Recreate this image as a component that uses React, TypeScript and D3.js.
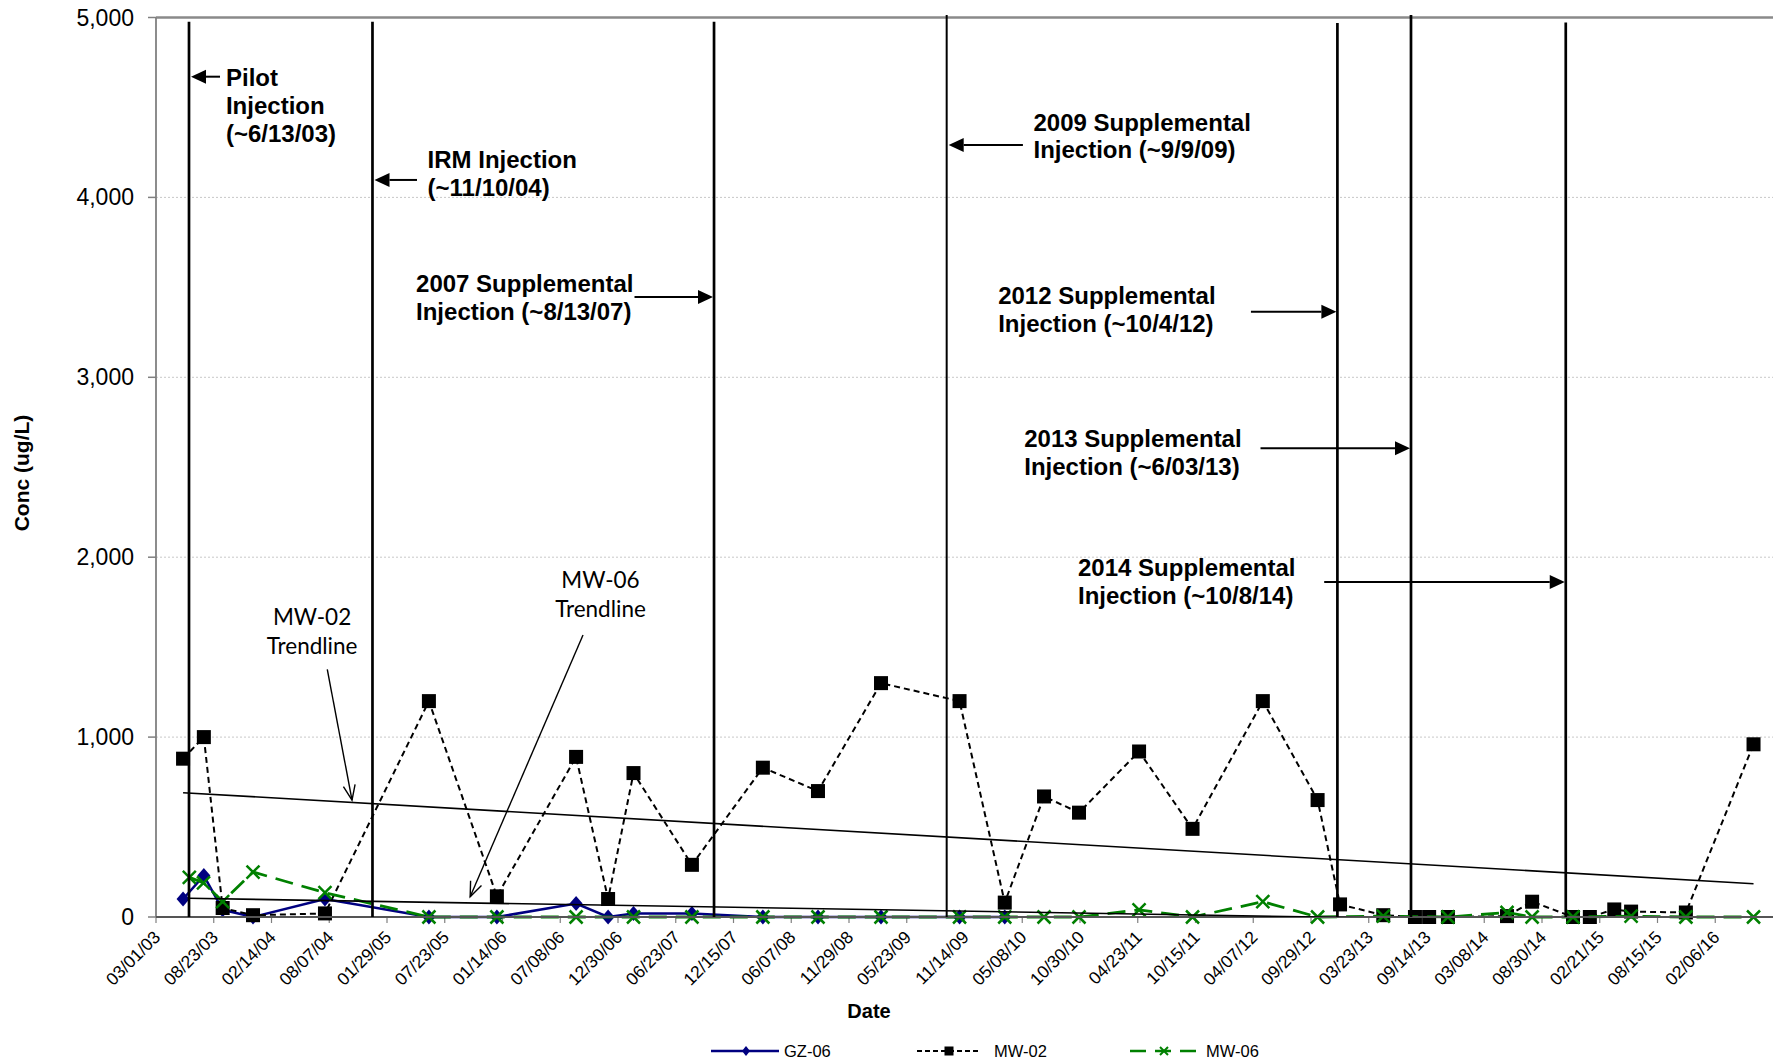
import React from 'react';
import * as d3 from 'd3';

// ---------- data ----------
const xAxisStart = '03/01/03';
const xAxisEnd = '07/30/16';
const xTickLabels = [
  '03/01/03', '08/23/03', '02/14/04', '08/07/04', '01/29/05', '07/23/05', '01/14/06',
  '07/08/06', '12/30/06', '06/23/07', '12/15/07', '06/07/08', '11/29/08', '05/23/09',
  '11/14/09', '05/08/10', '10/30/10', '04/23/11', '10/15/11', '04/07/12', '09/29/12',
  '03/23/13', '09/14/13', '03/08/14', '08/30/14', '02/21/15', '08/15/15', '02/06/16',
];
const yTicks = [0, 1000, 2000, 3000, 4000, 5000];

const gzDates = [
  '2003-05-22', '2003-07-24', '2003-09-19', '2003-12-20', '2004-07-25', '2005-06-05',
  '2005-12-28', '2006-08-25', '2006-11-30', '2007-02-15', '2007-08-11', '2008-03-13',
  '2008-08-27', '2009-03-06', '2009-10-30', '2010-03-16',
];
const gzValues = [100, 230, 40, 0, 100, 0, 0, 75, 0, 20, 20, 0, 0, 0, 0, 0];

const mw02Dates = [
  '2003-05-22', '2003-07-24', '2003-09-19', '2003-12-20', '2004-07-25', '2005-06-05',
  '2005-12-28', '2006-08-25', '2006-11-30', '2007-02-15', '2007-08-11', '2008-03-13',
  '2008-08-27', '2009-03-06', '2009-10-30', '2010-03-16', '2010-07-13', '2010-10-27',
  '2011-04-27', '2011-10-06', '2012-05-06', '2012-10-19', '2012-12-26', '2013-05-06',
  '2013-08-10', '2013-09-22', '2013-11-18', '2014-05-16', '2014-07-31', '2014-12-02',
  '2015-01-22', '2015-04-06', '2015-05-27', '2015-11-09', '2016-06-01',
];
const mw02Values = [
  880, 1000, 50, 10, 20, 1200, 115, 890, 100, 800, 290, 830, 700, 1300, 1200, 80, 670, 580,
  920, 490, 1200, 650, 70, 10, 0, 0, 0, 5, 85, 0, 0, 42, 30, 25, 960,
];

const mw06Dates = [
  '2003-06-10', '2003-07-23', '2003-09-19', '2003-12-20', '2004-07-25', '2005-06-05',
  '2005-12-28', '2006-08-25', '2007-02-15', '2007-08-11', '2008-03-13', '2008-08-27',
  '2009-03-06', '2009-10-30', '2010-03-16', '2010-07-13', '2010-10-27', '2011-04-27',
  '2011-10-06', '2012-05-06', '2012-10-19', '2013-05-06', '2013-11-18', '2014-05-16',
  '2014-07-31', '2014-12-02', '2015-05-27', '2015-11-09', '2016-06-01',
];
const mw06Values = [
  220, 190, 85, 250, 135, 0, 0, 0, 0, 0, 0, 0, 0, 0, 0, 0, 0, 40, 0, 85, 0, 5, 0, 25, 0, 0,
  5, 0, 0,
];

// linear trendline values at the first and last sample of each well
const mw02TrendValues = [691, 185];
const mw06TrendValues = [104, -40];

// injection events: marker line, callout text and arrow
const injectionLineDates = [
  '2003-06-09', '2004-12-16', '2007-10-17', '2009-09-21', '2012-12-18', '2013-07-29', '2014-11-10',
];
const injectionLineTops = [4977, 4977, 4977, 5014, 4970, 5014, 4972];
const injectionText = [
  ['Pilot', 'Injection', '(~6/13/03)'],
  ['IRM Injection', '(~11/10/04)'],
  ['2007 Supplemental', 'Injection (~8/13/07)'],
  ['2009 Supplemental', 'Injection (~9/9/09)'],
  ['2012 Supplemental', 'Injection (~10/4/12)'],
  ['2013 Supplemental', 'Injection (~6/03/13)'],
  ['2014 Supplemental', 'Injection (~10/8/14)'],
];
const injectionTextDates = [
  '2003-09-29', '2005-06-01', '2005-04-27', '2010-06-11', '2010-02-24', '2010-05-14', '2010-10-24',
];
const injectionTextValues = [4619, 4163, 3474, 4371, 3407, 2611, 1895];
const injectionArrowTailDates = [
  '2003-09-11', '2005-04-30', '2007-02-18', '2010-05-10', '2012-03-31', '2012-04-29', '2012-11-08',
];
const injectionArrowValues = [4671, 4097, 3446, 4291, 3365, 2605, 1862];

// trendline callouts
const trendLabelNames = ['MW-02', 'MW-06'];
const trendLabelDates = ['2004-06-16', '2006-11-07'];
const trendLabelValues = [1668, 1873];
const trendArrowFromDates = ['2004-08-01', '2006-09-15'];
const trendArrowFromValues = [1377, 1567];
const trendArrowToDates = ['2004-10-15', '2005-10-08'];
const trendArrowToValues = [650, 113];

// ---------- helpers ----------
const parseISO = d3.timeParse('%Y-%m-%d');
const parseTick = d3.timeParse('%m/%d/%y');
const ARIAL = '"Liberation Sans", Arial, sans-serif';

const W = 1773;
const H = 1061;

function zip(dates: string[], values: number[]): [Date, number][] {
  return dates.map((d, i) => [parseISO(d) as Date, values[i]]);
}

export default function App() {
  const x = d3
    .scaleTime()
    .domain([parseTick(xAxisStart) as Date, parseTick(xAxisEnd) as Date])
    .range([156, 1773]);
  const y = d3.scaleLinear().domain([0, 5000]).range([917, 17.5]);
  const x0 = x.range()[0];
  const x1 = x.range()[1];
  const yBottom = y(0);
  const yTop = y(5000);

  const line = d3
    .line<[Date, number]>()
    .x((d) => x(d[0]))
    .y((d) => y(d[1]));

  const gz = zip(gzDates, gzValues);
  const mw02 = zip(mw02Dates, mw02Values);
  const mw06 = zip(mw06Dates, mw06Values);

  const mw02Trend: [Date, number][] = [
    [mw02[0][0], mw02TrendValues[0]],
    [mw02[mw02.length - 1][0], mw02TrendValues[1]],
  ];
  const mw06Trend: [Date, number][] = [
    [mw06[0][0], mw06TrendValues[0]],
    [mw06[mw06.length - 1][0], mw06TrendValues[1]],
  ];

  const diamond = (cx: number, cy: number, k: string) => (
    <path key={k} d={`M${cx},${cy - 7.5}L${cx + 6.5},${cy}L${cx},${cy + 7.5}L${cx - 6.5},${cy}Z`} fill="#000080" />
  );
  const square = (cx: number, cy: number, k: string, s = 14) => (
    <rect key={k} x={cx - s / 2} y={cy - s / 2} width={s} height={s} fill="#000" />
  );
  const cross = (cx: number, cy: number, k: string, s = 6.5, w = 2.5) => (
    <path
      key={k}
      d={`M${cx - s},${cy - s}L${cx + s},${cy + s}M${cx - s},${cy + s}L${cx + s},${cy - s}`}
      stroke="#008000"
      strokeWidth={w}
      fill="none"
    />
  );

  const filledArrow = (fx: number, fy: number, tx: number, ty: number, k: string) => {
    const dx = tx - fx;
    const dy = ty - fy;
    const len = Math.hypot(dx, dy);
    const ux = dx / len;
    const uy = dy / len;
    const hl = 15;
    const hw = 7;
    const bx = tx - ux * hl;
    const by = ty - uy * hl;
    return (
      <g key={k}>
        <line x1={fx} y1={fy} x2={bx} y2={by} stroke="#000" strokeWidth={2} />
        <polygon
          points={`${tx},${ty} ${bx - uy * hw},${by + ux * hw} ${bx + uy * hw},${by - ux * hw}`}
          fill="#000"
        />
      </g>
    );
  };

  const openArrow = (fx: number, fy: number, tx: number, ty: number, k: string) => {
    const ang = Math.atan2(ty - fy, tx - fx);
    const hl = 16;
    const spread = 0.38;
    const a1 = ang + Math.PI - spread;
    const a2 = ang + Math.PI + spread;
    return (
      <g key={k} stroke="#000" strokeWidth={1.4} fill="none">
        <line x1={fx} y1={fy} x2={tx} y2={ty} />
        <path
          d={`M${tx + Math.cos(a1) * hl},${ty + Math.sin(a1) * hl}L${tx},${ty}L${tx + Math.cos(a2) * hl},${ty + Math.sin(a2) * hl}`}
        />
      </g>
    );
  };

  return (
    <svg
      width={W}
      height={H}
      viewBox={`0 0 ${W} ${H}`}
      style={{ position: 'absolute', left: 0, top: 0, background: '#fff' }}
    >
      <defs>
        <clipPath id="plotClip">
          <rect x={x0} y={yTop} width={x1 - x0} height={yBottom - yTop} />
        </clipPath>
      </defs>
      <rect x={0} y={0} width={W} height={H} fill="#fff" />

      {/* gridlines */}
      {yTicks
        .filter((t) => t > 0 && t < 5000)
        .map((t) => (
          <line
            key={`g${t}`}
            x1={x0}
            x2={x1}
            y1={y(t)}
            y2={y(t)}
            stroke="#c8c8c8"
            strokeWidth={1}
            strokeDasharray="2,2"
          />
        ))}

      {/* frame */}
      <line x1={x0} x2={x1} y1={yTop} y2={yTop} stroke="#8a8a8a" strokeWidth={2.5} />
      <line x1={x0} x2={x0} y1={yTop} y2={yBottom} stroke="#808080" strokeWidth={1.8} />

      {/* y axis */}
      {yTicks.map((t) => (
        <g key={`y${t}`}>
          <line x1={x0 - 8} x2={x0} y1={y(t)} y2={y(t)} stroke="#808080" strokeWidth={1.5} />
          <text
            x={134}
            y={y(t)}
            dy="0.35em"
            textAnchor="end"
            fontFamily={ARIAL}
            fontSize={23}
            fill="#000"
          >
            {d3.format(',')(t)}
          </text>
        </g>
      ))}
      <text
        transform={`translate(22,473) rotate(-90)`}
        textAnchor="middle"
        dy="0.35em"
        fontFamily={ARIAL}
        fontWeight="bold"
        fontSize={21}
      >
        Conc (ug/L)
      </text>

      {/* x axis */}
      {xTickLabels.map((lbl) => {
        const tx = x(parseTick(lbl) as Date);
        return (
          <g key={`x${lbl}`}>
            <line x1={tx} x2={tx} y1={yBottom} y2={yBottom + 6} stroke="#808080" strokeWidth={1.2} />
            <text
              transform={`translate(${tx + 1},${yBottom + 17}) rotate(-45)`}
              textAnchor="end"
              dy="0.35em"
              fontFamily={ARIAL}
              fontSize={17.5}
            >
              {lbl}
            </text>
          </g>
        );
      })}
      <text x={869} y={1018} textAnchor="middle" fontFamily={ARIAL} fontWeight="bold" fontSize={20}>
        Date
      </text>

      {/* GZ-06 */}
      <path d={line(gz) || ''} fill="none" stroke="#000080" strokeWidth={2.5} />
      {gz.map((d, i) => diamond(x(d[0]), y(d[1]), `gz${i}`))}

      {/* MW-02 */}
      <path d={line(mw02) || ''} fill="none" stroke="#000" strokeWidth={2} strokeDasharray="6,4" />
      {mw02.map((d, i) => square(x(d[0]), y(d[1]), `mw02${i}`))}

      {/* MW-06 */}
      <path d={line(mw06) || ''} fill="none" stroke="#008000" strokeWidth={2.8} strokeDasharray="18,9" />
      {mw06.map((d, i) => cross(x(d[0]), y(d[1]), `mw06${i}`))}

      {/* x axis line */}
      <line x1={x0} x2={x1} y1={yBottom} y2={yBottom} stroke="#555" strokeWidth={2} />

      {/* trendlines */}
      <g clipPath="url(#plotClip)">
        <path d={line(mw02Trend) || ''} fill="none" stroke="#000" strokeWidth={1.6} />
        <path d={line(mw06Trend) || ''} fill="none" stroke="#000" strokeWidth={1.6} />
      </g>

      {/* trendline callouts */}
      {trendLabelNames.map((nm, i) => {
        const cx = x(parseISO(trendLabelDates[i]) as Date);
        const cy = y(trendLabelValues[i]);
        return (
          <g key={`tl${i}`}>
            <text x={cx} y={cy} dy="0.35em" textAnchor="middle" fontFamily="Lato, sans-serif" fontSize={22.5}>
              {nm}
            </text>
            <text x={cx} y={cy + 29} dy="0.35em" textAnchor="middle" fontFamily="Lato, sans-serif" fontSize={22.5}>
              Trendline
            </text>
            {openArrow(
              x(parseISO(trendArrowFromDates[i]) as Date),
              y(trendArrowFromValues[i]),
              x(parseISO(trendArrowToDates[i]) as Date),
              y(trendArrowToValues[i]),
              `ta${i}`,
            )}
          </g>
        );
      })}

      {/* injection events */}
      {injectionLineDates.map((d, i) => {
        const lx = x(parseISO(d) as Date);
        const tailX = x(parseISO(injectionArrowTailDates[i]) as Date);
        const ay = y(injectionArrowValues[i]);
        const tipX = tailX > lx ? lx + 2 : lx - 1;
        const tx = x(parseISO(injectionTextDates[i]) as Date);
        const ty = y(injectionTextValues[i]);
        return (
          <g key={`inj${i}`}>
            <line
              x1={lx}
              x2={lx}
              y1={y(injectionLineTops[i])}
              y2={yBottom}
              stroke="#000"
              strokeWidth={i === 3 ? 2 : 2.7}
            />
            {filledArrow(tailX, ay, tipX, ay, `ia${i}`)}
            <text fontFamily={ARIAL} fontWeight="bold" fontSize={24} fill="#000">
              {injectionText[i].map((t, j) => (
                <tspan key={j} x={tx} y={ty + j * 27.8}>
                  {t}
                </tspan>
              ))}
            </text>
          </g>
        );
      })}

      {/* legend */}
      <g fontFamily={ARIAL} fontSize={16.5}>
        <line x1={711} x2={779} y1={1051} y2={1051} stroke="#000080" strokeWidth={2.5} />
        <path d="M746,1046L750,1051L746,1056L742,1051Z" fill="#000080" />
        <text x={784} y={1051} dy="0.35em">GZ-06</text>

        <line x1={917} x2={980} y1={1051} y2={1051} stroke="#000" strokeWidth={2} strokeDasharray="5,3" />
        {square(949, 1051, 'lgsq', 9)}
        <text x={994} y={1051} dy="0.35em">MW-02</text>

        <line x1={1130} x2={1198} y1={1051} y2={1051} stroke="#008000" strokeWidth={2.5} strokeDasharray="16,9" />
        {cross(1164, 1051, 'lgx', 4, 2)}
        <text x={1206} y={1051} dy="0.35em">MW-06</text>
      </g>
    </svg>
  );
}
